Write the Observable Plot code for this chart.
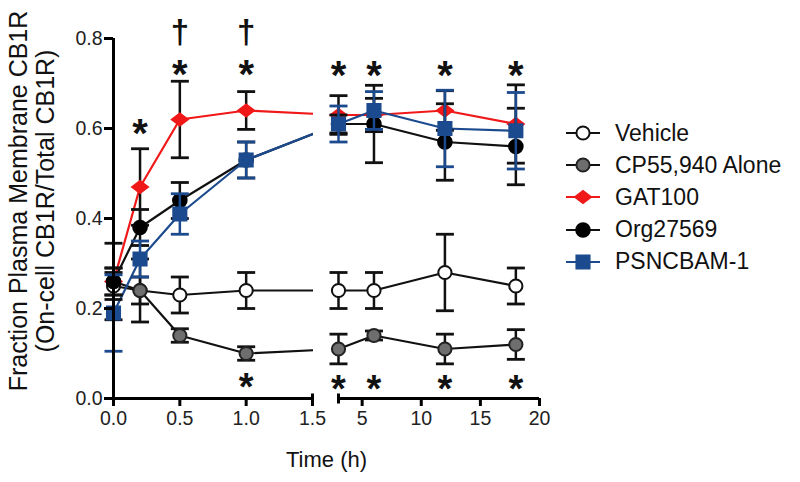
<!DOCTYPE html>
<html>
<head>
<meta charset="utf-8">
<script src="https://cdn.jsdelivr.net/npm/d3@7"></script>
<script src="https://cdn.jsdelivr.net/npm/@observablehq/plot@0.6"></script>
<style>
  body { margin: 0; background: #fff; font-family: "Liberation Sans", Arial, sans-serif; }
  #wrap { position: relative; width: 800px; height: 482px; overflow: hidden; }
  #ytitle { position: absolute; left: 32px; top: 201px; width: 440px; text-align: center;
            font-size: 25px; line-height: 27px; color: #111;
            transform: translate(-50%, -50%) rotate(-90deg); white-space: nowrap; }
  #legend { position: absolute; left: 562px; top: 117px; font-size: 23px; color: #111; }
  .li { display: flex; align-items: center; height: 32.2px; }
  .li svg { margin-right: 13px; }
</style>
</head>
<body>
<div id="wrap">
  <div id="chart"></div>
  <div id="ytitle">Fraction Plasma Membrane CB1R<br>(On-cell CB1R/Total CB1R)</div>
  <div id="legend"></div>
</div>
<script>
// ---- data ----
const times = [0, 0.2, 0.5, 1, 3, 6, 12, 18];
const seriesNames = ["Vehicle", "CP55,940 Alone", "GAT100", "Org27569", "PSNCBAM-1"];
const vehicle     = [0.25, 0.24, 0.23, 0.24, 0.24, 0.24, 0.28, 0.25];
const vehicleErr  = [0.03, 0.03, 0.04, 0.04, 0.04, 0.04, 0.085, 0.04];
const cp          = [0.26, 0.24, 0.14, 0.10, 0.11, 0.14, 0.11, 0.12];
const cpErr       = [0.03, 0.07, 0.015, 0.015, 0.033, 0.01, 0.033, 0.033];
const gat         = [0.26, 0.47, 0.62, 0.64, 0.63, 0.63, 0.64, 0.61];
const gatErr      = [0.085, 0.085, 0.085, 0.042, 0.043, 0.037, 0.044, 0.087];
const org         = [0.26, 0.38, 0.44, 0.53, 0.61, 0.61, 0.57, 0.56];
const orgErr      = [0.03, 0.04, 0.04, 0.04, 0.02, 0.086, 0.085, 0.085];
const psnc        = [0.19, 0.31, 0.41, 0.53, 0.61, 0.64, 0.60, 0.595];
const psncErr     = [0.085, 0.04, 0.045, 0.04, 0.04, 0.042, 0.085, 0.085];

const yTicks = [0, 0.2, 0.4, 0.6, 0.8];
const xTicks1 = [0, 0.5, 1.0, 1.5];
const xTicks2 = [5, 10, 15, 20];
const xTickLabels1 = ["0.0", "0.5", "1.0", "1.5"];
const xTickLabels2 = ["5", "10", "15", "20"];

// significance marks
const starsTop = [{t: 0.2, y: 0.61}, {t: 0.5, y: 0.74}, {t: 1, y: 0.74},
                  {t: 3, y: 0.738}, {t: 6, y: 0.738}, {t: 12, y: 0.738}, {t: 18, y: 0.738}];
const starsBottom = [{t: 1, y: 0.044}, {t: 3, y: 0.04}, {t: 6, y: 0.04}, {t: 12, y: 0.04}, {t: 18, y: 0.04}];
const daggers = [{t: 0.5, y: 0.813}, {t: 1, y: 0.813}];

// ---- broken x axis: segment 1 [0,1.5], segment 2 [3,20] ----
const seg1 = [0, 1.5], seg2 = [3, 20];
const W1 = 199, GAP = 26, W2 = 201; // virtual widths
const toV = t => t <= seg1[1]
  ? (t - seg1[0]) / (seg1[1] - seg1[0]) * W1
  : W1 + GAP + (t - seg2[0]) / (seg2[1] - seg2[0]) * W2;

// ---- styles ----
const RED = "#f01818", BLUE = "#1c4a8e", GRAY = "#6e6e6e";
const diamondSym = { draw(ctx, size) { const r = Math.sqrt(size / Math.PI);
  ctx.moveTo(-1.2 * r, 0); ctx.lineTo(0, -0.92 * r); ctx.lineTo(1.2 * r, 0); ctx.lineTo(0, 0.92 * r); ctx.closePath(); } };
const capSym = { draw(ctx, size) { const r = Math.sqrt(size / Math.PI); ctx.moveTo(-r, 0); ctx.lineTo(r, 0); } };
const vbarSym = { draw(ctx, size) { const r = Math.sqrt(size / Math.PI); ctx.moveTo(0, -r); ctx.lineTo(0, r); } };

const series = [
  {name: seriesNames[0], values: vehicle, err: vehicleErr, line: "#111", bar: "#111", fill: "#fff", stroke: "#111", symbol: "circle", r: 6.6},
  {name: seriesNames[1], values: cp, err: cpErr, line: "#111", bar: "#111", fill: GRAY, stroke: "#222", symbol: "circle", r: 6.6},
  {name: seriesNames[2], values: gat, err: gatErr, line: RED, bar: "#111", fill: RED, stroke: RED, symbol: diamondSym, r: 6.6},
  {name: seriesNames[3], values: org, err: orgErr, line: "#111", bar: "#111", fill: "#000", stroke: "#000", symbol: "circle", r: 6.8},
  {name: seriesNames[4], values: psnc, err: psncErr, line: BLUE, bar: BLUE, fill: BLUE, stroke: BLUE, symbol: "square", r: 7.4}
];
const rowsOf = s => times.map((t, i) => ({t, v: s.values[i], e: s.err[i]}));

const marks = [];
// connecting lines
for (const s of series) {
  marks.push(Plot.line(rowsOf(s), {x: d => toV(d.t), y: "v", stroke: s.line, strokeWidth: 2.2}));
}
// hide the lines inside the axis break
marks.push(Plot.rect([0], {x1: toV(seg1[1]) + 1, x2: toV(seg2[0]), y1: 0.03, y2: 0.8, fill: "#fff"}));
// error bars and markers
for (const s of series) {
  const rows = rowsOf(s);
  marks.push(Plot.ruleX(rows, {x: d => toV(d.t), y1: d => d.v - d.e, y2: d => d.v + d.e, stroke: s.bar, strokeWidth: 2.5}));
  marks.push(Plot.dot(rows, {x: d => toV(d.t), y: d => d.v + d.e, symbol: capSym, r: 9, fill: "none", stroke: s.bar, strokeWidth: 2.8}));
  marks.push(Plot.dot(rows, {x: d => toV(d.t), y: d => d.v - d.e, symbol: capSym, r: 9, fill: "none", stroke: s.bar, strokeWidth: 2.8}));
  marks.push(Plot.dot(rows, {x: d => toV(d.t), y: "v", symbol: s.symbol, r: s.r, fill: s.fill, stroke: s.stroke, strokeWidth: 2}));
}
// axes
marks.push(Plot.ruleX([0], {y1: 0, y2: 0.8, strokeWidth: 3, stroke: "#000"}));
marks.push(Plot.ruleY([0], {x1: toV(seg1[0]) - 1.5, x2: toV(seg1[1]), strokeWidth: 3, stroke: "#000"}));
marks.push(Plot.ruleY([0], {x1: toV(seg2[0]), x2: toV(seg2[1]), strokeWidth: 3, stroke: "#000"}));
marks.push(Plot.dot([seg1[1], seg2[0]], {x: d => toV(d), y: 0, symbol: vbarSym, r: 5, stroke: "#000", strokeWidth: 3, fill: "none"}));
marks.push(Plot.axisY(yTicks, {tickFormat: d3.format(".1f"), tickSize: 9, tickPadding: 2, strokeWidth: 3, fontSize: 19.5, label: null, fill: "#222"}));
const lab1 = new Map(xTicks1.map((t, i) => [toV(t), xTickLabels1[i]]));
const lab2 = new Map(xTicks2.map((t, i) => [toV(t), xTickLabels2[i]]));
marks.push(Plot.axisX(xTicks1.map(toV), {tickFormat: v => lab1.get(v), tickSize: 8, tickPadding: 5, strokeWidth: 3, fontSize: 19.5, label: null, fill: "#222"}));
marks.push(Plot.axisX(xTicks2.map(toV), {tickFormat: v => lab2.get(v), tickSize: 8, tickPadding: 5, strokeWidth: 3, fontSize: 19.5, label: null, fill: "#222"}));
marks.push(Plot.text(["Time (h)"], {frameAnchor: "bottom", lineAnchor: "middle", dy: 61, fontSize: 22, fill: "#111"}));
// significance
marks.push(Plot.text(starsTop, {x: d => toV(d.t), y: "y", text: () => "*", fontSize: 40, fontWeight: "bold", lineAnchor: "middle", dy: 10, fill: "#111"}));
marks.push(Plot.text(starsBottom, {x: d => toV(d.t), y: "y", text: () => "*", fontSize: 38, fontWeight: "bold", lineAnchor: "middle", dy: 9, fill: "#111"}));
marks.push(Plot.text(daggers, {x: d => toV(d.t), y: "y", text: () => "\u2020", fontSize: 33, fontWeight: "bold", lineAnchor: "middle", dy: 0, fill: "#111"}));

const chart = Plot.plot({
  width: 800, height: 482,
  marginLeft: 113, marginRight: 261, marginTop: 38, marginBottom: 84,
  x: {domain: [0, W1 + GAP + W2]},
  y: {domain: [0, 0.8]},
  style: {fontFamily: "'Liberation Sans', Arial, sans-serif", background: "#fff", overflow: "visible"},
  marks
});
document.getElementById("chart").append(chart);

// legend
const legend = document.getElementById("legend");
for (const s of series) {
  const row = document.createElement("div");
  row.className = "li";
  const ns = "http://www.w3.org/2000/svg";
  const svg = document.createElementNS(ns, "svg");
  svg.setAttribute("width", 40); svg.setAttribute("height", 22);
  const ln = document.createElementNS(ns, "line");
  ln.setAttribute("x1", 4); ln.setAttribute("x2", 38); ln.setAttribute("y1", 11); ln.setAttribute("y2", 11);
  ln.setAttribute("stroke", s.line); ln.setAttribute("stroke-width", 2.2);
  svg.append(ln);
  const p = document.createElementNS(ns, "path");
  const sym = typeof s.symbol === "string" ? (s.symbol === "circle" ? d3.symbolCircle : d3.symbolSquare) : s.symbol;
  p.setAttribute("d", d3.symbol(sym, Math.PI * s.r * s.r)());
  p.setAttribute("transform", "translate(21,11)");
  p.setAttribute("fill", s.fill); p.setAttribute("stroke", s.stroke); p.setAttribute("stroke-width", 2);
  svg.append(p);
  row.append(svg);
  const tx = document.createElement("span");
  tx.textContent = s.name;
  row.append(tx);
  legend.append(row);
}
</script>
</body>
</html>
